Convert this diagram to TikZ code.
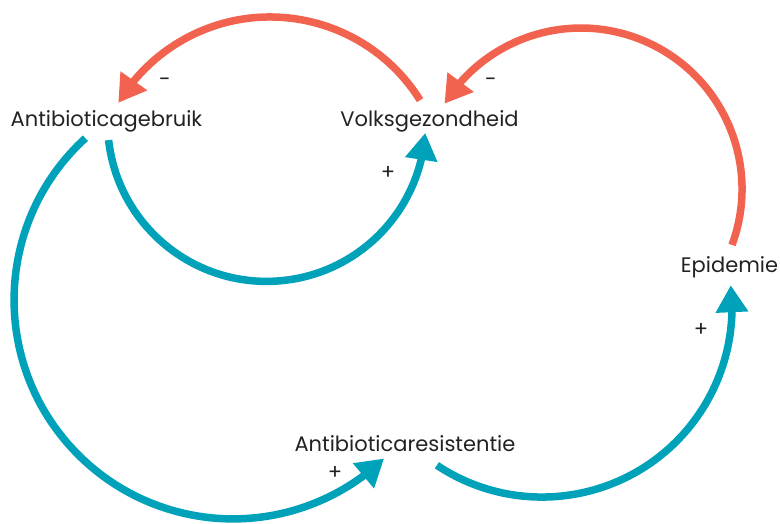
\documentclass[tikz,border=0pt]{standalone}
\usepackage{fontspec}
\setmainfont{Poppins}
\usetikzlibrary{arrows.meta,bending}
\definecolor{redc}{HTML}{F2634F}
\definecolor{bluec}{HTML}{00A2BA}
\definecolor{txtc}{HTML}{222222}
\tikzset{
  lbl/.style={anchor=base,text=txtc,inner sep=0pt,font=\fontsize{21}{24}\selectfont},
  sign/.style={text=txtc,inner sep=0pt,font=\fontsize{21}{24}\selectfont},
  redarr/.style={draw=redc,line width=7.5pt,-{Triangle[length=27pt,width=31pt,flex]}},
  bluearr/.style={draw=bluec,line width=7.5pt,-{Triangle[length=27pt,width=31pt,flex]}},
}
\begin{document}
\begin{tikzpicture}[x=1pt,y=1pt]
\useasboundingbox (0,0) rectangle (780,523);
% nodes
\node[lbl] (ag) at (106.5,396) {Antibioticagebruik};
\node[lbl] (vg) at (429.5,396) {Volksgezondheid};
\node[lbl] (ep) at (729.5,250) {Epidemie};
\node[lbl] (ar) at (405,72) {Antibioticaresistentie};
% connector end points
\coordinate (r1s) at (420.1,422.8);
\coordinate (r1e) at (118.3,420.2);
\coordinate (r2s) at (732,278.1);
\coordinate (r2e) at (444.5,419.3);
\coordinate (b3s) at (108.6,382.9);
\coordinate (b3e) at (425.3,390.1);
\coordinate (b4s) at (85.4,384.8);
\coordinate (b4e) at (384.1,64.5);
\coordinate (b5s) at (436.9,57.7);
\coordinate (b5e) at (730.7,237.8);
% connectors
\draw[redarr] (r1s) arc[start angle=32,end angle=149,radius=177];
\draw[redarr] (r2s) arc[start angle=-20.3,end angle=148,radius=161];
\draw[bluearr] (b3s) arc[start angle=186.4,end angle=356.2,radius=159];
\draw[bluearr] (b4s) arc[start angle=132.4,end angle=313.6,radius=219];
\draw[bluearr] (b5s) arc[start angle=236.4,end angle=366.6,radius=190];
% signs
\node[sign] (m1) at (165,441) {-};
\node[sign] (m2) at (491,441) {-};
\node[sign] (p3) at (388,350) {+};
\node[sign] (p4) at (335,50) {+};
\node[sign] (p5) at (701,193) {+};
\end{tikzpicture}
\end{document}
